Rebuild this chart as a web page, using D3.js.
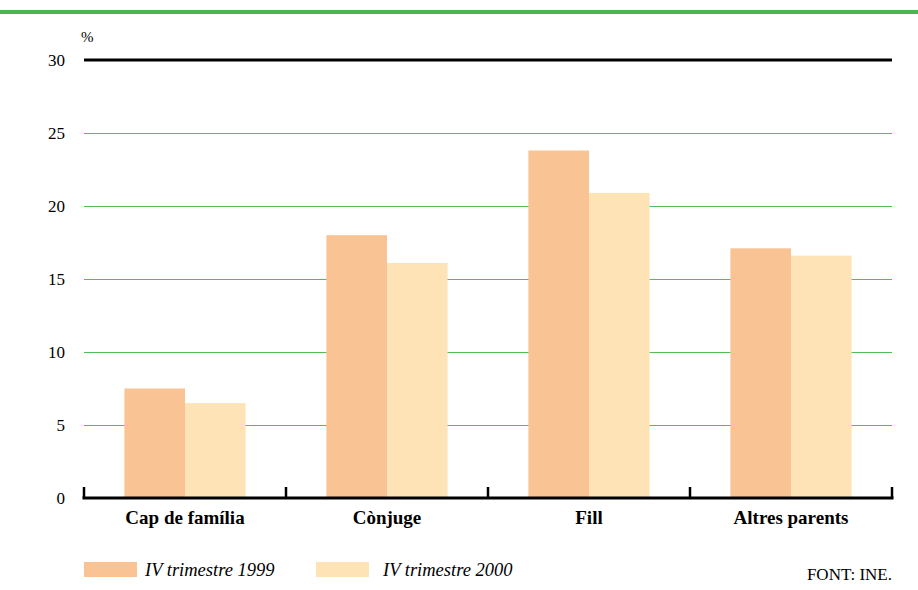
<!DOCTYPE html>
<html><head><meta charset="utf-8"><script src="https://d3js.org/d3.v7.min.js"></script></head>
<body style="margin:0">
<script>
// data
const categories = ["Cap de família", "Cònjuge", "Fill", "Altres parents"];
const seriesNames = ["IV trimestre 1999", "IV trimestre 2000"];
const values1999 = [7.5, 18.0, 23.8, 17.1];
const values2000 = [6.5, 16.1, 20.9, 16.6];
const yTicks = [0, 5, 10, 15, 20, 25, 30];
const colors = ["#f9c394", "#fde3b6"];

const W = 918, H = 590;
const margin = {top: 60, right: 26, bottom: 92, left: 84};
const FONT = '"Liberation Serif"';

const svg = d3.select("body").append("svg")
  .attr("width", W).attr("height", H)
  .style("display", "block");

// top green band
svg.append("rect").attr("x", 0).attr("y", 10).attr("width", W).attr("height", 4)
  .attr("fill", "#4db54f");

const x = d3.scaleBand().domain(categories)
  .range([margin.left, W - margin.right]).padding(0);
const y = d3.scaleLinear().domain([0, 30]).range([H - margin.bottom, margin.top]);

const xs = d3.scaleBand().domain(seriesNames)
  .range([x.bandwidth() * 0.2, x.bandwidth() * 0.8]).padding(0);

// gridlines
svg.append("g").selectAll("line")
  .data(yTicks.filter(d => d > 0 && d < 30))
  .join("line")
  .attr("x1", margin.left).attr("x2", W - margin.right)
  .attr("y1", d => Math.round(y(d)) + 0.5).attr("y2", d => Math.round(y(d)) + 0.5)
  .attr("stroke", "#55bd55").attr("stroke-width", 1);

// top line at 30
svg.append("line")
  .attr("x1", margin.left).attr("x2", W - margin.right)
  .attr("y1", y(30)).attr("y2", y(30))
  .attr("stroke", "#000").attr("stroke-width", 3);

// y labels
svg.append("g").selectAll("text")
  .data(yTicks).join("text")
  .attr("x", 65).attr("y", d => y(d) + 6)
  .attr("text-anchor", "end")
  .attr("font-size", 17)
  .style("font-family", FONT)
  .text(d => d);

svg.append("text").attr("x", 81).attr("y", 42)
  .attr("font-size", 15)
  .style("font-family", FONT)
  .text("%");

// bars
const rows = categories.map((c, i) => ({cat: c, vals: [values1999[i], values2000[i]]}));
const grp = svg.append("g").selectAll("g").data(rows).join("g")
  .attr("transform", d => `translate(${x(d.cat)},0)`);
grp.selectAll("rect")
  .data(d => d.vals.map((v, j) => ({s: seriesNames[j], v: v, j: j})))
  .join("rect")
  .attr("x", d => xs(d.s))
  .attr("width", xs.bandwidth())
  .attr("y", d => y(d.v))
  .attr("height", d => y(0) - y(d.v))
  .attr("fill", d => colors[d.j]);

// x axis line + ticks
const axisY = y(0);
svg.append("line")
  .attr("x1", margin.left - 1.5).attr("x2", W - margin.right + 1.5)
  .attr("y1", axisY).attr("y2", axisY)
  .attr("stroke", "#000").attr("stroke-width", 3);
const bounds = categories.map(c => x(c)).concat([x.range()[1]]);
svg.append("g").selectAll("line").data(bounds).join("line")
  .attr("x1", d => d).attr("x2", d => d)
  .attr("y1", axisY).attr("y2", axisY - 11)
  .attr("stroke", "#000").attr("stroke-width", 2.5);

// category labels
svg.append("g").selectAll("text").data(categories).join("text")
  .attr("x", d => x(d) + x.bandwidth() * 0.5)
  .attr("y", axisY + 26)
  .attr("text-anchor", "middle")
  .attr("font-size", 19).attr("font-weight", "bold")
  .style("font-family", FONT)
  .text(d => d);

// legend
const legX = [84, 316];
const leg = svg.append("g").selectAll("g").data(seriesNames).join("g")
  .attr("transform", (d, i) => `translate(${legX[i]},562)`);
leg.append("rect").attr("width", 53).attr("height", 15)
  .attr("fill", (d, i) => colors[i]);
leg.append("text").attr("x", (d, i) => i === 0 ? 61 : 67).attr("y", 14)
  .attr("font-size", 18.5).attr("font-style", "italic")
  .style("font-family", FONT)
  .text(d => d);

svg.append("text").attr("x", W - margin.right).attr("y", 580)
  .attr("text-anchor", "end")
  .attr("font-size", 17)
  .style("font-family", FONT)
  .text("FONT: INE.");
</script>
</body>
</html>
